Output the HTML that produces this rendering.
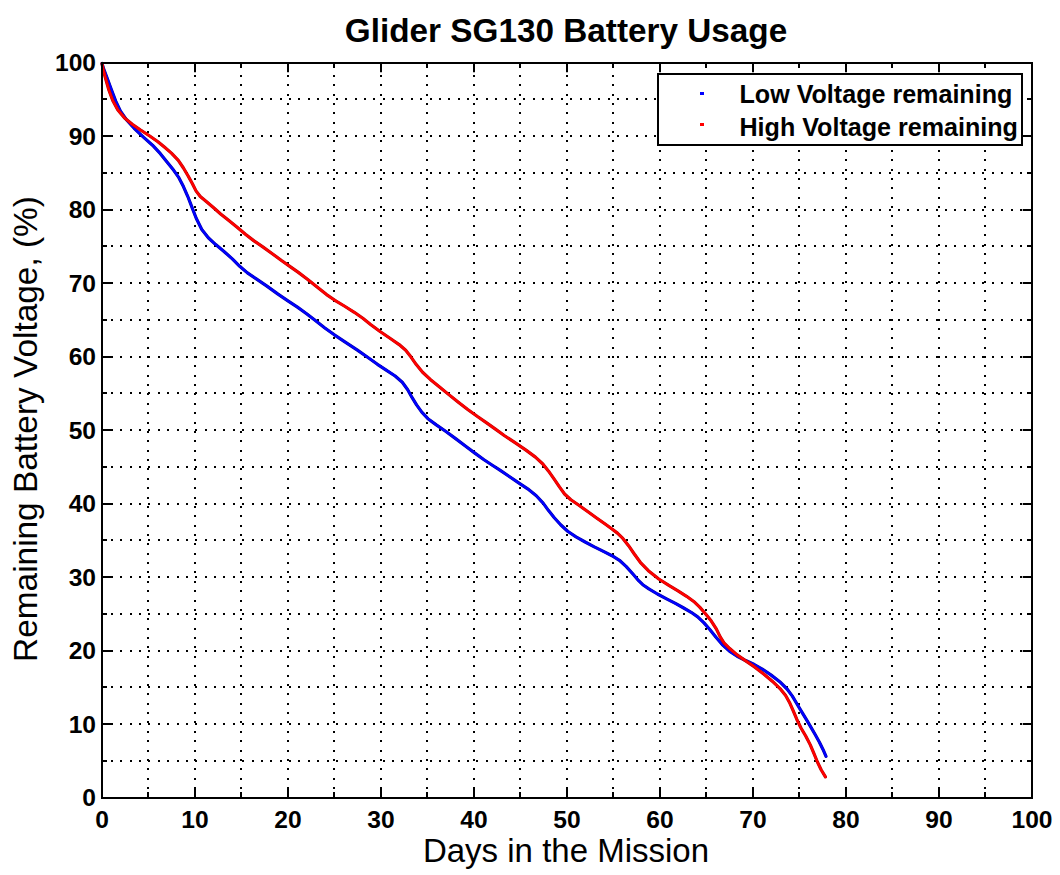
<!DOCTYPE html>
<html><head><meta charset="utf-8"><style>html,body{margin:0;padding:0;background:#fff;width:1060px;height:875px;overflow:hidden}</style></head><body>
<svg width="1060" height="875" viewBox="0 0 1060 875" style="display:block"><g stroke="#000" stroke-width="2" stroke-dasharray="2 7.37" stroke-dashoffset="0.37" shape-rendering="crispEdges"><line x1="148" y1="798" x2="148" y2="63"/><line x1="102" y1="761" x2="1032" y2="761"/><line x1="195" y1="798" x2="195" y2="63"/><line x1="102" y1="724" x2="1032" y2="724"/><line x1="241" y1="798" x2="241" y2="63"/><line x1="102" y1="687" x2="1032" y2="687"/><line x1="288" y1="798" x2="288" y2="63"/><line x1="102" y1="651" x2="1032" y2="651"/><line x1="334" y1="798" x2="334" y2="63"/><line x1="102" y1="614" x2="1032" y2="614"/><line x1="381" y1="798" x2="381" y2="63"/><line x1="102" y1="577" x2="1032" y2="577"/><line x1="427" y1="798" x2="427" y2="63"/><line x1="102" y1="540" x2="1032" y2="540"/><line x1="474" y1="798" x2="474" y2="63"/><line x1="102" y1="504" x2="1032" y2="504"/><line x1="520" y1="798" x2="520" y2="63"/><line x1="102" y1="467" x2="1032" y2="467"/><line x1="567" y1="798" x2="567" y2="63"/><line x1="102" y1="430" x2="1032" y2="430"/><line x1="613" y1="798" x2="613" y2="63"/><line x1="102" y1="393" x2="1032" y2="393"/><line x1="660" y1="798" x2="660" y2="63"/><line x1="102" y1="357" x2="1032" y2="357"/><line x1="706" y1="798" x2="706" y2="63"/><line x1="102" y1="320" x2="1032" y2="320"/><line x1="753" y1="798" x2="753" y2="63"/><line x1="102" y1="283" x2="1032" y2="283"/><line x1="799" y1="798" x2="799" y2="63"/><line x1="102" y1="246" x2="1032" y2="246"/><line x1="846" y1="798" x2="846" y2="63"/><line x1="102" y1="210" x2="1032" y2="210"/><line x1="892" y1="798" x2="892" y2="63"/><line x1="102" y1="173" x2="1032" y2="173"/><line x1="939" y1="798" x2="939" y2="63"/><line x1="102" y1="136" x2="1032" y2="136"/><line x1="985" y1="798" x2="985" y2="63"/><line x1="102" y1="99" x2="1032" y2="99"/></g>
<g stroke="#000" stroke-width="2"><line x1="148" y1="798" x2="148" y2="792"/><line x1="148" y1="63" x2="148" y2="68"/><line x1="102" y1="761" x2="107" y2="761"/><line x1="1032" y1="761" x2="1027" y2="761"/><line x1="241" y1="798" x2="241" y2="792"/><line x1="241" y1="63" x2="241" y2="68"/><line x1="102" y1="687" x2="107" y2="687"/><line x1="1032" y1="687" x2="1027" y2="687"/><line x1="334" y1="798" x2="334" y2="792"/><line x1="334" y1="63" x2="334" y2="68"/><line x1="102" y1="614" x2="107" y2="614"/><line x1="1032" y1="614" x2="1027" y2="614"/><line x1="427" y1="798" x2="427" y2="792"/><line x1="427" y1="63" x2="427" y2="68"/><line x1="102" y1="540" x2="107" y2="540"/><line x1="1032" y1="540" x2="1027" y2="540"/><line x1="520" y1="798" x2="520" y2="792"/><line x1="520" y1="63" x2="520" y2="68"/><line x1="102" y1="467" x2="107" y2="467"/><line x1="1032" y1="467" x2="1027" y2="467"/><line x1="613" y1="798" x2="613" y2="792"/><line x1="613" y1="63" x2="613" y2="68"/><line x1="102" y1="393" x2="107" y2="393"/><line x1="1032" y1="393" x2="1027" y2="393"/><line x1="706" y1="798" x2="706" y2="792"/><line x1="706" y1="63" x2="706" y2="68"/><line x1="102" y1="320" x2="107" y2="320"/><line x1="1032" y1="320" x2="1027" y2="320"/><line x1="799" y1="798" x2="799" y2="792"/><line x1="799" y1="63" x2="799" y2="68"/><line x1="102" y1="246" x2="107" y2="246"/><line x1="1032" y1="246" x2="1027" y2="246"/><line x1="892" y1="798" x2="892" y2="792"/><line x1="892" y1="63" x2="892" y2="68"/><line x1="102" y1="173" x2="107" y2="173"/><line x1="1032" y1="173" x2="1027" y2="173"/><line x1="985" y1="798" x2="985" y2="792"/><line x1="985" y1="63" x2="985" y2="68"/><line x1="102" y1="99" x2="107" y2="99"/><line x1="1032" y1="99" x2="1027" y2="99"/></g>
<path d="M102.00,63.50 L103.47,68.23 L107.01,77.71 L111.44,89.71 L115.73,101.14 L120.47,111.14 L126.40,119.71 L134.14,128.29 L143.43,137.14 L152.50,145.21 L160.36,153.64 L167.43,162.57 L173.71,170.29 L178.86,177.71 L183.43,186.57 L187.71,196.29 L191.71,206.57 L196.21,218.29 L201.79,229.43 L208.29,237.71 L215.71,244.57 L224.29,251.71 L232.57,259.14 L239.71,266.29 L247.43,272.86 L256.29,278.86 L266.57,285.86 L278.00,294.14 L288.29,301.14 L297.43,307.14 L306.57,313.71 L315.71,320.86 L324.86,328.00 L334.00,334.57 L344.86,341.86 L357.43,350.14 L368.29,357.71 L377.43,364.29 L386.57,370.29 L395.14,376.00 L402.29,382.29 L407.71,389.71 L412.00,397.43 L416.57,404.86 L421.79,412.14 L427.93,418.71 L436.29,424.86 L446.29,431.71 L456.29,439.14 L465.71,446.29 L474.86,453.14 L484.00,459.71 L492.36,465.29 L499.93,470.14 L508.57,476.00 L518.29,482.57 L527.71,488.86 L536.29,495.71 L543.14,503.14 L548.57,510.57 L554.29,517.71 L560.64,524.71 L567.64,531.29 L576.00,536.86 L585.14,542.00 L594.29,546.86 L603.43,551.43 L612.00,555.71 L619.43,560.29 L626.29,566.57 L633.14,574.29 L638.64,580.71 L642.79,584.71 L648.86,588.86 L657.43,594.00 L666.57,598.86 L675.43,603.43 L683.71,608.00 L691.14,612.29 L697.71,616.86 L704.00,622.86 L710.00,629.71 L715.79,636.93 L722.21,644.50 L729.43,651.14 L737.14,656.29 L745.71,660.57 L754.29,664.57 L762.29,669.14 L770.86,674.86 L779.71,681.71 L787.07,689.00 L792.36,696.14 L796.86,703.71 L801.43,711.43 L806.00,718.86 L810.57,726.57 L815.14,734.57 L819.43,742.29 L823.00,749.43 L826.00,756.29" fill="none" stroke="#0000a8" stroke-width="3.2" stroke-linejoin="round" stroke-linecap="round"/>
<path d="M102.00,63.50 L103.47,68.23 L107.01,77.71 L111.44,89.71 L115.73,101.14 L120.47,111.14 L126.40,119.71 L134.14,128.29 L143.43,137.14 L152.50,145.21 L160.36,153.64 L167.43,162.57 L173.71,170.29 L178.86,177.71 L183.43,186.57 L187.71,196.29 L191.71,206.57 L196.21,218.29 L201.79,229.43 L208.29,237.71 L215.71,244.57 L224.29,251.71 L232.57,259.14 L239.71,266.29 L247.43,272.86 L256.29,278.86 L266.57,285.86 L278.00,294.14 L288.29,301.14 L297.43,307.14 L306.57,313.71 L315.71,320.86 L324.86,328.00 L334.00,334.57 L344.86,341.86 L357.43,350.14 L368.29,357.71 L377.43,364.29 L386.57,370.29 L395.14,376.00 L402.29,382.29 L407.71,389.71 L412.00,397.43 L416.57,404.86 L421.79,412.14 L427.93,418.71 L436.29,424.86 L446.29,431.71 L456.29,439.14 L465.71,446.29 L474.86,453.14 L484.00,459.71 L492.36,465.29 L499.93,470.14 L508.57,476.00 L518.29,482.57 L527.71,488.86 L536.29,495.71 L543.14,503.14 L548.57,510.57 L554.29,517.71 L560.64,524.71 L567.64,531.29 L576.00,536.86 L585.14,542.00 L594.29,546.86 L603.43,551.43 L612.00,555.71 L619.43,560.29 L626.29,566.57 L633.14,574.29 L638.64,580.71 L642.79,584.71 L648.86,588.86 L657.43,594.00 L666.57,598.86 L675.43,603.43 L683.71,608.00 L691.14,612.29 L697.71,616.86 L704.00,622.86 L710.00,629.71 L715.79,636.93 L722.21,644.50 L729.43,651.14 L737.14,656.29 L745.71,660.57 L754.29,664.57 L762.29,669.14 L770.86,674.86 L779.71,681.71 L787.07,689.00 L792.36,696.14 L796.86,703.71 L801.43,711.43 L806.00,718.86 L810.57,726.57 L815.14,734.57 L819.43,742.29 L823.00,749.43 L826.00,756.29" fill="none" stroke="#0000ff" stroke-width="2.2" stroke-linejoin="round" stroke-linecap="round"/>
<path d="M102.00,63.50 L102.86,68.23 L105.43,78.00 L108.86,90.00 L112.71,100.57 L117.86,110.00 L124.57,118.00 L132.29,124.29 L140.57,130.00 L149.71,136.00 L157.93,141.79 L164.36,147.07 L171.43,153.14 L178.29,160.29 L183.43,168.00 L188.00,175.71 L192.29,183.43 L196.00,190.86 L200.29,196.57 L206.57,201.71 L213.64,207.71 L220.64,214.00 L228.86,220.57 L237.43,227.43 L245.43,234.29 L254.00,240.86 L263.14,247.14 L272.29,253.71 L281.14,260.29 L289.43,266.14 L298.00,272.14 L307.71,279.43 L317.71,287.43 L326.57,294.57 L334.86,300.29 L344.29,306.00 L354.29,312.29 L362.86,318.29 L370.57,324.43 L379.71,331.29 L390.00,338.29 L399.14,344.57 L405.71,350.29 L410.86,356.86 L416.29,364.57 L422.57,372.29 L430.29,379.43 L438.93,386.43 L447.93,393.86 L457.71,401.71 L467.71,409.43 L477.14,416.29 L486.29,422.57 L495.43,429.14 L504.57,435.71 L514.64,442.43 L525.64,449.86 L535.43,457.14 L542.86,464.00 L548.57,471.14 L554.00,478.86 L559.43,486.86 L564.57,494.00 L570.86,499.71 L578.93,505.29 L587.64,511.57 L596.57,518.00 L605.14,524.00 L612.00,529.00 L617.43,533.14 L622.86,538.43 L628.57,545.71 L634.29,554.00 L640.29,562.29 L648.36,570.71 L658.79,579.00 L668.86,585.43 L678.00,590.86 L686.57,596.29 L693.71,601.43 L699.71,607.14 L705.43,613.71 L711.14,620.86 L716.29,628.86 L720.07,636.64 L723.93,642.79 L729.71,648.57 L737.14,654.86 L745.71,660.86 L754.86,667.14 L764.00,674.29 L772.57,681.43 L780.00,688.57 L785.64,695.57 L789.50,702.43 L793.14,710.57 L796.86,719.43 L800.86,727.71 L805.71,736.00 L810.29,744.86 L814.00,753.71 L817.43,762.00 L821.14,769.71 L825.43,776.86" fill="none" stroke="#c00000" stroke-width="3.2" stroke-linejoin="round" stroke-linecap="round"/>
<path d="M102.00,63.50 L102.86,68.23 L105.43,78.00 L108.86,90.00 L112.71,100.57 L117.86,110.00 L124.57,118.00 L132.29,124.29 L140.57,130.00 L149.71,136.00 L157.93,141.79 L164.36,147.07 L171.43,153.14 L178.29,160.29 L183.43,168.00 L188.00,175.71 L192.29,183.43 L196.00,190.86 L200.29,196.57 L206.57,201.71 L213.64,207.71 L220.64,214.00 L228.86,220.57 L237.43,227.43 L245.43,234.29 L254.00,240.86 L263.14,247.14 L272.29,253.71 L281.14,260.29 L289.43,266.14 L298.00,272.14 L307.71,279.43 L317.71,287.43 L326.57,294.57 L334.86,300.29 L344.29,306.00 L354.29,312.29 L362.86,318.29 L370.57,324.43 L379.71,331.29 L390.00,338.29 L399.14,344.57 L405.71,350.29 L410.86,356.86 L416.29,364.57 L422.57,372.29 L430.29,379.43 L438.93,386.43 L447.93,393.86 L457.71,401.71 L467.71,409.43 L477.14,416.29 L486.29,422.57 L495.43,429.14 L504.57,435.71 L514.64,442.43 L525.64,449.86 L535.43,457.14 L542.86,464.00 L548.57,471.14 L554.00,478.86 L559.43,486.86 L564.57,494.00 L570.86,499.71 L578.93,505.29 L587.64,511.57 L596.57,518.00 L605.14,524.00 L612.00,529.00 L617.43,533.14 L622.86,538.43 L628.57,545.71 L634.29,554.00 L640.29,562.29 L648.36,570.71 L658.79,579.00 L668.86,585.43 L678.00,590.86 L686.57,596.29 L693.71,601.43 L699.71,607.14 L705.43,613.71 L711.14,620.86 L716.29,628.86 L720.07,636.64 L723.93,642.79 L729.71,648.57 L737.14,654.86 L745.71,660.86 L754.86,667.14 L764.00,674.29 L772.57,681.43 L780.00,688.57 L785.64,695.57 L789.50,702.43 L793.14,710.57 L796.86,719.43 L800.86,727.71 L805.71,736.00 L810.29,744.86 L814.00,753.71 L817.43,762.00 L821.14,769.71 L825.43,776.86" fill="none" stroke="#ff0000" stroke-width="2.2" stroke-linejoin="round" stroke-linecap="round"/>
<g stroke="#000" stroke-width="2" fill="none"><rect x="102" y="63" width="930" height="735" fill="none"/><line x1="195" y1="798" x2="195" y2="788.7"/><line x1="195" y1="63" x2="195" y2="72.3"/><line x1="102" y1="724" x2="111.3" y2="724"/><line x1="1032" y1="724" x2="1022.7" y2="724"/><line x1="288" y1="798" x2="288" y2="788.7"/><line x1="288" y1="63" x2="288" y2="72.3"/><line x1="102" y1="651" x2="111.3" y2="651"/><line x1="1032" y1="651" x2="1022.7" y2="651"/><line x1="381" y1="798" x2="381" y2="788.7"/><line x1="381" y1="63" x2="381" y2="72.3"/><line x1="102" y1="577" x2="111.3" y2="577"/><line x1="1032" y1="577" x2="1022.7" y2="577"/><line x1="474" y1="798" x2="474" y2="788.7"/><line x1="474" y1="63" x2="474" y2="72.3"/><line x1="102" y1="504" x2="111.3" y2="504"/><line x1="1032" y1="504" x2="1022.7" y2="504"/><line x1="567" y1="798" x2="567" y2="788.7"/><line x1="567" y1="63" x2="567" y2="72.3"/><line x1="102" y1="430" x2="111.3" y2="430"/><line x1="1032" y1="430" x2="1022.7" y2="430"/><line x1="660" y1="798" x2="660" y2="788.7"/><line x1="660" y1="63" x2="660" y2="72.3"/><line x1="102" y1="357" x2="111.3" y2="357"/><line x1="1032" y1="357" x2="1022.7" y2="357"/><line x1="753" y1="798" x2="753" y2="788.7"/><line x1="753" y1="63" x2="753" y2="72.3"/><line x1="102" y1="283" x2="111.3" y2="283"/><line x1="1032" y1="283" x2="1022.7" y2="283"/><line x1="846" y1="798" x2="846" y2="788.7"/><line x1="846" y1="63" x2="846" y2="72.3"/><line x1="102" y1="210" x2="111.3" y2="210"/><line x1="1032" y1="210" x2="1022.7" y2="210"/><line x1="939" y1="798" x2="939" y2="788.7"/><line x1="939" y1="63" x2="939" y2="72.3"/><line x1="102" y1="136" x2="111.3" y2="136"/><line x1="1032" y1="136" x2="1022.7" y2="136"/></g>
<g font-family="Liberation Sans, sans-serif" font-weight="bold" font-size="24.6" fill="#000"><text x="102.0" y="827.5" text-anchor="middle">0</text><text x="96" y="806.4" text-anchor="end">0</text><text x="195.0" y="827.5" text-anchor="middle">10</text><text x="96" y="732.9" text-anchor="end">10</text><text x="288.0" y="827.5" text-anchor="middle">20</text><text x="96" y="659.4" text-anchor="end">20</text><text x="381.0" y="827.5" text-anchor="middle">30</text><text x="96" y="585.9" text-anchor="end">30</text><text x="474.0" y="827.5" text-anchor="middle">40</text><text x="96" y="512.4" text-anchor="end">40</text><text x="567.0" y="827.5" text-anchor="middle">50</text><text x="96" y="438.9" text-anchor="end">50</text><text x="660.0" y="827.5" text-anchor="middle">60</text><text x="96" y="365.4" text-anchor="end">60</text><text x="753.0" y="827.5" text-anchor="middle">70</text><text x="96" y="291.9" text-anchor="end">70</text><text x="846.0" y="827.5" text-anchor="middle">80</text><text x="96" y="218.4" text-anchor="end">80</text><text x="939.0" y="827.5" text-anchor="middle">90</text><text x="96" y="144.9" text-anchor="end">90</text><text x="1032.0" y="827.5" text-anchor="middle">100</text><text x="96" y="71.4" text-anchor="end">100</text></g>
<rect x="658" y="74" width="364" height="71" fill="#fff" stroke="#000" stroke-width="2"/>
<rect x="700" y="92" width="4" height="3" fill="#0000ff"/><rect x="700" y="123" width="4" height="3" fill="#ff0000"/>
<g font-family="Liberation Sans, sans-serif" font-weight="bold" font-size="25.1" fill="#000"><text x="739.5" y="103">Low Voltage remaining</text><text x="739.5" y="136">High Voltage remaining</text></g>
<text x="566" y="41.6" text-anchor="middle" font-family="Liberation Sans, sans-serif" font-weight="bold" font-size="33.3">Glider SG130 Battery Usage</text>
<text x="566" y="861.6" text-anchor="middle" font-family="Liberation Sans, sans-serif" font-size="33">Days in the Mission</text>
<text transform="translate(37,429) rotate(-90)" x="0" y="0" text-anchor="middle" font-family="Liberation Sans, sans-serif" font-size="33.4">Remaining Battery Voltage, (%)</text></svg>
</body></html>
